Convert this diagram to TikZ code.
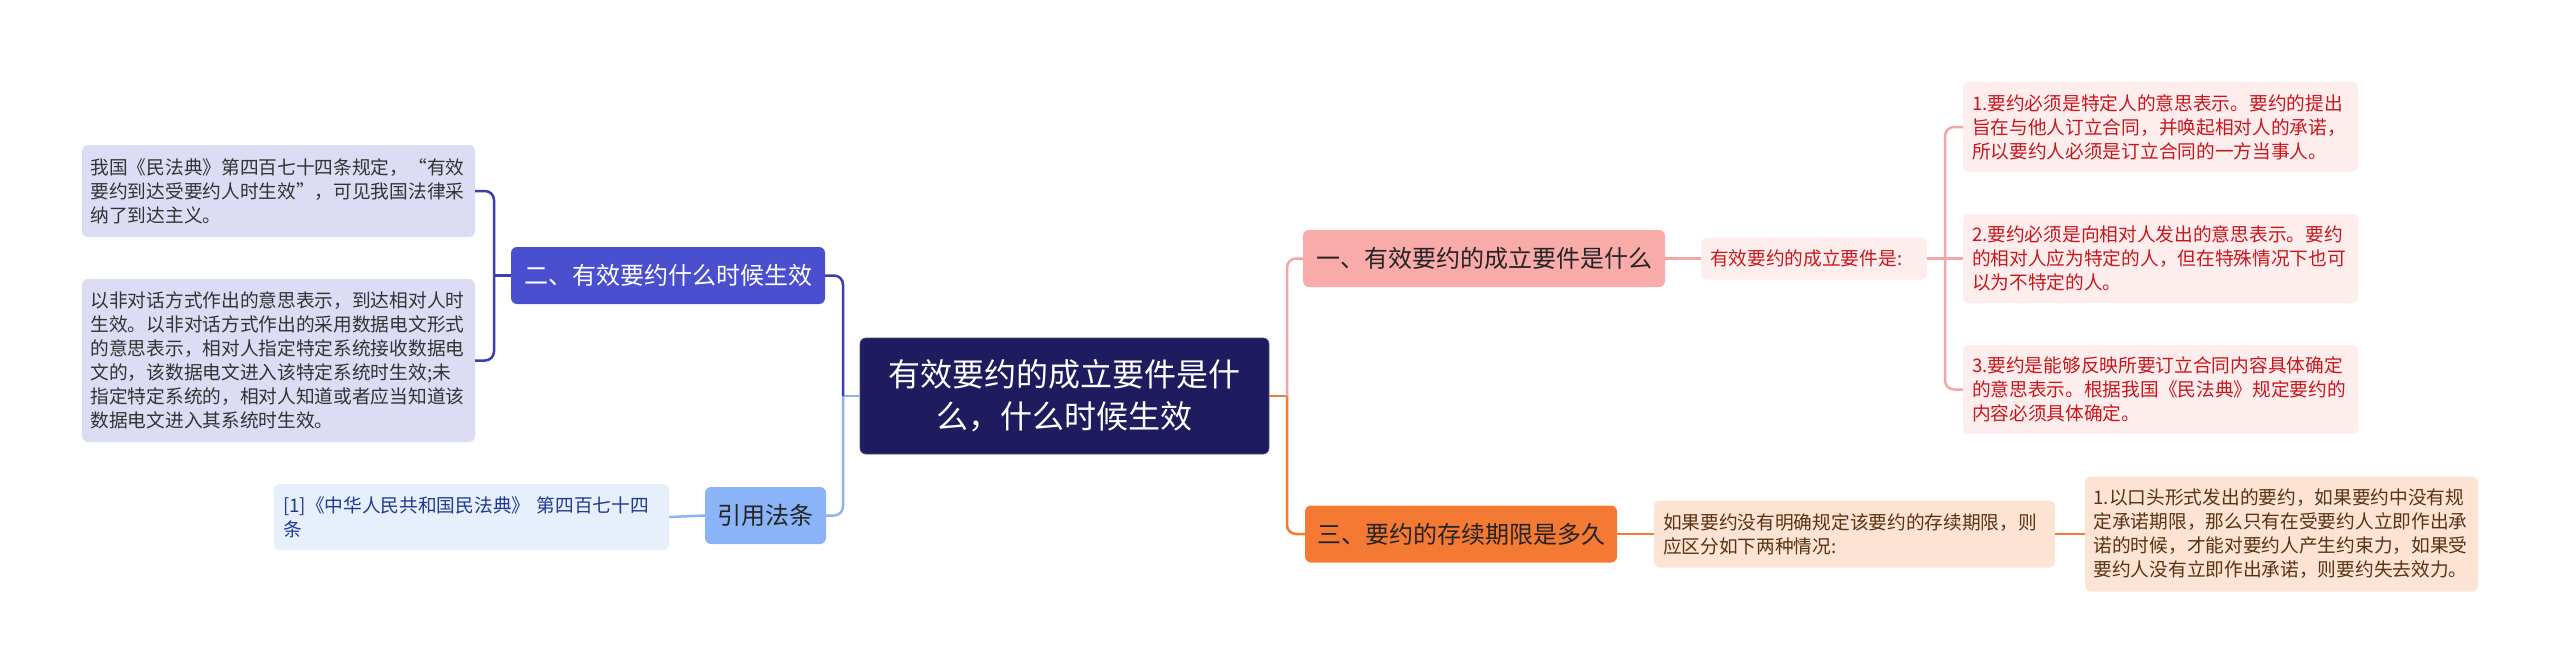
\documentclass[tikz,border=0pt]{standalone}
\usepackage{fontspec}
\setmainfont{Noto Sans CJK SC}
\definecolor{rootfill}{HTML}{1E1B5E}
\definecolor{ntwofill}{HTML}{4A4FCF}
\definecolor{leftline}{HTML}{3A3DB5}
\definecolor{lvfill}{HTML}{DDDCF5}
\definecolor{leaftext}{HTML}{333333}
\definecolor{yinfill}{HTML}{8BB3F7}
\definecolor{yinline}{HTML}{8FB3EF}
\definecolor{reffill}{HTML}{E7EEFC}
\definecolor{reftext}{HTML}{1D3B8F}
\definecolor{nonefill}{HTML}{F8ABA8}
\definecolor{pinkline}{HTML}{F2A7A6}
\definecolor{pinkfill}{HTML}{FDEEED}
\definecolor{redtext}{HTML}{C9161D}
\definecolor{nthreefill}{HTML}{F47A34}
\definecolor{orline}{HTML}{EF7C30}
\definecolor{peachfill}{HTML}{FDE3D4}
\definecolor{browntext}{HTML}{5A3312}
\tikzset{
  base/.style={rounded corners=6pt, inner sep=0pt, anchor=center},
  leaf/.style={base, align=left, font=\fontsize{18.7}{24}\selectfont},
  mainbox/.style={base, align=center, font=\fontsize{24}{28}\selectfont, minimum height=57pt},
  conn/.style={line width=2.5pt, rounded corners=9pt},
}
\begin{document}
\begin{tikzpicture}[x=1pt,y=-1pt]
\useasboundingbox[fill=white] (0,0) rectangle (2560,672);

% root
\node[base, align=center, fill=rootfill, draw=rootfill!80!white, line width=0.8pt, text=white,
  font=\fontsize{32}{42}\selectfont, minimum width=409pt, minimum height=116pt] (root) at (1064.5,396)
  {有效要约的成立要件是什\\么，什么时候生效};

% left side
\node[mainbox, fill=ntwofill, text=white, minimum width=314pt] (n2) at (668,275.5) {二、有效要约什么时候生效};
\node[mainbox, fill=yinfill, text=leaftext!70!black, minimum width=121pt] (nyin) at (765.5,515.5) {引用法条};

\node[leaf, fill=lvfill, text=leaftext, minimum width=393pt, minimum height=92pt, text width=376pt] (L1) at (278.5,191)
  {我国《民法典》第四百七十四条规定，“有效\\要约到达受要约人时生效”，可见我国法律采\\纳了到达主义。};
\node[leaf, fill=lvfill, text=leaftext, minimum width=393pt, minimum height=163pt, text width=376pt] (L2) at (278.5,360.5)
  {以非对话方式作出的意思表示，到达相对人时\\生效。以非对话方式作出的采用数据电文形式\\的意思表示，相对人指定特定系统接收数据电\\文的，该数据电文进入该特定系统时生效;未\\指定特定系统的，相对人知道或者应当知道该\\数据电文进入其系统时生效。};
\node[leaf, fill=reffill, text=reftext, minimum width=395pt, minimum height=66pt, text width=377pt] (ref) at (471.5,517)
  {[1]《中华人民共和国民法典》 第四百七十四\\条};

% right side
\node[mainbox, fill=nonefill, text=leaftext!70!black, minimum width=362pt] (n1) at (1484,258.5) {一、有效要约的成立要件是什么};
\node[leaf, fill=pinkfill, text=redtext, minimum width=226pt, minimum height=42pt, text width=208pt] (s1) at (1814,258.5)
  {有效要约的成立要件是:};
\node[leaf, fill=pinkfill, text=redtext, minimum width=395pt, minimum height=90pt, text width=377pt] (R1) at (2160.5,127)
  {1.要约必须是特定人的意思表示。要约的提出\\旨在与他人订立合同，并唤起相对人的承诺，\\所以要约人必须是订立合同的一方当事人。};
\node[leaf, fill=pinkfill, text=redtext, minimum width=395pt, minimum height=89pt, text width=377pt] (R2) at (2160.5,258.5)
  {2.要约必须是向相对人发出的意思表示。要约\\的相对人应为特定的人，但在特殊情况下也可\\以为不特定的人。};
\node[leaf, fill=pinkfill, text=redtext, minimum width=395pt, minimum height=89pt, text width=377pt] (R3) at (2160.5,389.5)
  {3.要约是能够反映所要订立合同内容具体确定\\的意思表示。根据我国《民法典》规定要约的\\内容必须具体确定。};

\node[mainbox, fill=nthreefill, text=leaftext!70!black, minimum width=312pt] (n3) at (1461,534) {三、要约的存续期限是多久};
\node[leaf, fill=peachfill, text=browntext, minimum width=401pt, minimum height=67pt, text width=383pt] (t3) at (1854.5,534)
  {如果要约没有明确规定该要约的存续期限，则\\应区分如下两种情况:};
\node[leaf, fill=peachfill, text=browntext, minimum width=393pt, minimum height=115pt, text width=376pt] (t4) at (2281.5,534)
  {1.以口头形式发出的要约，如果要约中没有规\\定承诺期限，那么只有在受要约人立即作出承\\诺的时候，才能对要约人产生约束力，如果受\\要约人没有立即作出承诺，则要约失去效力。};

% connectors left
\coordinate (jl) at (843,396);
\coordinate (jl2) at (494,275.5);
\draw[conn, yinline] (root.west) -- (jl);
\draw[conn, leftline] (jl) |- (n2.east);
\draw[conn, yinline] (jl) |- (nyin.east);
\draw[conn, leftline] (n2.west) -- (jl2);
\draw[conn, leftline] (jl2) |- (L1.east);
\draw[conn, leftline] (jl2) |- (L2.east);
\draw[conn, yinline] (nyin.west) -- (ref.east);

% connectors right
\coordinate (jr) at (1287,396);
\coordinate (jr2) at (1945,258.5);
\draw[conn, orline] (root.east) -- (jr);
\draw[conn, pinkline] (jr) |- (n1.west);
\draw[conn, orline] (jr) |- (n3.west);
\draw[conn, pinkline] (n1.east) -- (s1.west);
\draw[conn, pinkline] (s1.east) -- (jr2);
\draw[conn, pinkline] (jr2) |- (R1.west);
\draw[conn, pinkline] (jr2) -- (R2.west);
\draw[conn, pinkline] (jr2) |- (R3.west);
\draw[conn, orline] (n3.east) -- (t3.west);
\draw[conn, orline] (t3.east) -- (t4.west);
\end{tikzpicture}
\end{document}
